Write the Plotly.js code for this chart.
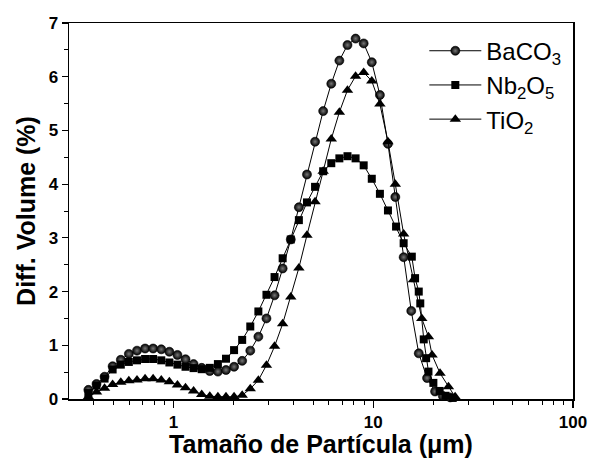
<!DOCTYPE html>
<html>
<head>
<meta charset="utf-8">
<script src="https://cdn.plot.ly/plotly-3.0.1.min.js"></script>
<style>html,body{margin:0;padding:0;background:#fff;}#chart{width:590px;height:458px;}</style>
</head>
<body>
<div id="chart"></div>
<script>
// Particle size (µm) and differential volume (%)
const baco3X = [0.375,0.412,0.452,0.496,0.545,0.598,0.657,0.721,0.791,0.869,0.954,1.047,1.149,1.261,1.385,1.520,1.669,1.832,2.011,2.208,2.424,2.661,2.921,3.207,3.521,3.866,4.244,4.659,5.115,5.616,6.166,6.769,7.432,8.159,8.958,9.834,10.80,11.85,12.9,14.2,15.5,16.9,18.6,20.4,22.3,24.3];
const baco3Y = [0.17,0.28,0.415,0.61,0.73,0.84,0.90,0.94,0.94,0.925,0.88,0.82,0.74,0.65,0.58,0.52,0.51,0.54,0.60,0.71,0.90,1.16,1.50,1.93,2.43,2.97,3.57,4.18,4.79,5.36,5.87,6.30,6.59,6.71,6.62,6.27,5.66,4.75,3.76,2.64,1.64,0.85,0.39,0.14,0.056,0.03];

const nb2o5X = [0.375,0.412,0.452,0.496,0.545,0.598,0.657,0.721,0.791,0.869,0.954,1.047,1.149,1.261,1.385,1.520,1.669,1.832,2.011,2.208,2.424,2.661,2.921,3.207,3.521,3.866,4.244,4.659,5.115,5.616,6.166,6.769,7.432,8.159,8.958,9.834,10.80,11.85,13.01,14.2,15.6,16.2,16.9,17.2,17.9,18.4,18.9,20.0,21.5,23.0,25.0];
const nb2o5Y = [0.11,0.25,0.38,0.55,0.64,0.69,0.72,0.745,0.745,0.72,0.68,0.64,0.60,0.575,0.555,0.58,0.65,0.75,0.91,1.10,1.35,1.63,1.94,2.27,2.62,2.97,3.33,3.66,3.95,4.24,4.39,4.48,4.52,4.48,4.35,4.10,3.82,3.51,3.21,2.90,2.65,2.25,2.00,1.78,1.11,0.76,0.51,0.30,0.15,0.06,0.02];

const tio2X = [0.375,0.412,0.452,0.496,0.545,0.598,0.657,0.721,0.791,0.869,0.954,1.047,1.149,1.261,1.385,1.520,1.669,1.832,2.011,2.208,2.424,2.661,2.921,3.207,3.521,3.866,4.244,4.659,5.115,5.616,6.166,6.769,7.432,8.159,8.958,9.834,10.80,11.85,12.9,14.2,15.9,17.5,18.9,19.7,21.6,23.8,25.7];
const tio2Y = [0.04,0.13,0.20,0.27,0.31,0.34,0.355,0.375,0.375,0.355,0.32,0.26,0.21,0.15,0.085,0.05,0.04,0.04,0.04,0.07,0.19,0.35,0.63,0.98,1.40,1.90,2.44,3.05,3.67,4.24,4.84,5.34,5.75,6.01,6.08,5.92,5.49,4.79,4.00,3.07,2.22,1.50,1.16,0.82,0.48,0.23,0.04];

const seriesNames = ['BaCO<sub>3</sub>', 'Nb<sub>2</sub>O<sub>5</sub>', 'TiO<sub>2</sub>'];
const xTickVals = [1, 10, 100];
const xTickText = ['1', '10', '100'];

const FONT = 'Arial, "Liberation Sans", sans-serif';
const minorX = [];
[0.1, 1, 10].forEach(d => { for (let k = 2; k <= 9; k++) { const v = +(k * d).toFixed(3); if (v > 0.3 && v < 100) minorX.push(v); } });

const common = { mode: 'lines+markers', cliponaxis: false, line: { color: '#000', width: 1 } };
const traces = [
  Object.assign({}, common, { x: baco3X, y: baco3Y, name: seriesNames[0],
    marker: { symbol: 'circle', size: 9, color: '#000', gradient: { type: 'radial', color: '#777777' }, line: { color: '#000', width: 0.6 } } }),
  Object.assign({}, common, { x: nb2o5X, y: nb2o5Y, name: seriesNames[1],
    marker: { symbol: 'square', size: 8, color: '#000' } }),
  Object.assign({}, common, { x: tio2X, y: tio2Y, name: seriesNames[2],
    marker: { symbol: 'triangle-up', size: 10, color: '#000' } })
];

const layout = {
  width: 590, height: 458,
  margin: { l: 69, r: 17, t: 23, b: 59, pad: 0 },
  paper_bgcolor: '#fff', plot_bgcolor: '#fff',
  font: { family: FONT, color: '#000' },
  showlegend: true,
  legend: { x: 0.705, y: 0.985, xanchor: 'left', yanchor: 'top', bgcolor: 'rgba(0,0,0,0)',
    font: { family: FONT, size: 24, color: '#000' }, itemwidth: 52, tracegroupgap: 0 },
  xaxis: {
    type: 'log', range: [Math.log10(0.3), 2], autorange: false,
    showline: true, linecolor: '#000', linewidth: 1.5, mirror: true,
    showgrid: false, zeroline: false,
    ticks: 'outside', ticklen: 7, tickwidth: 1.2, tickcolor: '#000',
    tickmode: 'array', tickvals: xTickVals, ticktext: xTickText,
    tickfont: { family: FONT, size: 17, weight: 'bold', color: '#000' },
    minor: { tickmode: 'array', tickvals: minorX, ticks: 'outside', ticklen: 4, tickwidth: 1, tickcolor: '#000', showgrid: false },
    layer: 'below traces',
    title: { text: 'Tamaño de Partícula (μm)', font: { family: FONT, size: 25, weight: 'bold', color: '#000' }, standoff: 2 }
  },
  yaxis: {
    range: [0, 7], autorange: false,
    showline: true, linecolor: '#000', linewidth: 1.5, mirror: true,
    showgrid: false, zeroline: false,
    ticks: 'outside', ticklen: 6, tickwidth: 1.2, tickcolor: '#000',
    tickmode: 'linear', tick0: 0, dtick: 1,
    tickfont: { family: FONT, size: 17, weight: 'bold', color: '#000' },
    minor: { tickmode: 'linear', tick0: 0, dtick: 0.5, ticks: 'outside', ticklen: 4, tickwidth: 1, tickcolor: '#000', showgrid: false },
    layer: 'below traces',
    title: { text: 'Diff. Volume (%)', font: { family: FONT, size: 25, weight: 'bold', color: '#000' }, standoff: 6 }
  }
};

Plotly.newPlot('chart', traces, layout, { displayModeBar: false, staticPlot: true });
</script>
</body>
</html>
